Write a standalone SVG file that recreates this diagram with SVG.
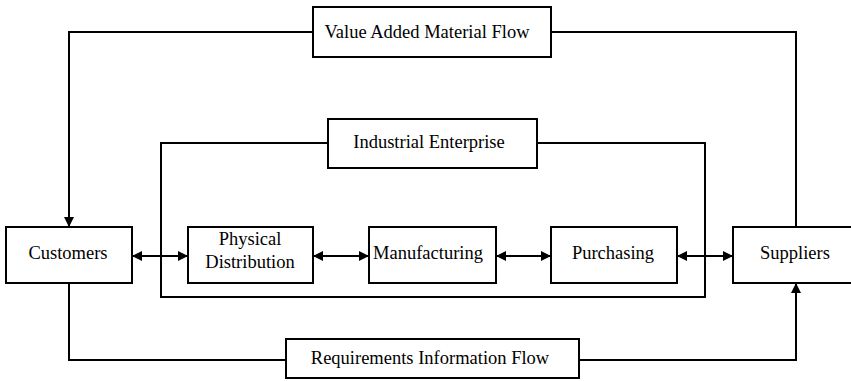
<svg xmlns="http://www.w3.org/2000/svg" width="851" height="381" viewBox="0 0 851 381">
  <style>
    .box { fill: #ffffff; stroke: #000000; stroke-width: 2; }
    .wire { fill: none; stroke: #000000; stroke-width: 2; }
    .label { font-family: "Liberation Serif", "Times New Roman", serif; font-size: 18.5px; fill: #000000; text-anchor: middle; }
  </style>
  <defs>
    <marker id="head" viewBox="0 0 10 10" refX="10" refY="5" markerWidth="10" markerHeight="10" markerUnits="userSpaceOnUse" orient="auto-start-reverse">
      <path d="M0,0 L10,5 L0,10 Z" fill="#000000"/>
    </marker>
  </defs>
  <rect width="851" height="381" fill="#ffffff"/>

  <g id="connectors">
    <!-- enterprise frame -->
    <path class="wire" d="M328,143 H161 V297 H705 V143 H537"/>
    <!-- value added material flow loop -->
    <path class="wire" d="M313,32 H69 V227" marker-end="url(#head)"/>
    <path class="wire" d="M551,32 H796 V227"/>
    <!-- requirements information flow loop -->
    <path class="wire" d="M69,283 V360 H286"/>
    <path class="wire" d="M579,360 H796 V283" marker-end="url(#head)"/>
    <!-- two-way links along the chain -->
    <path class="wire" d="M132,256 H188" marker-start="url(#head)" marker-end="url(#head)"/>
    <path class="wire" d="M313,256 H369" marker-start="url(#head)" marker-end="url(#head)"/>
    <path class="wire" d="M496,256 H551" marker-start="url(#head)" marker-end="url(#head)"/>
    <path class="wire" d="M677,256 H733" marker-start="url(#head)" marker-end="url(#head)"/>
  </g>

  <g id="value-added-material-flow">
    <rect class="box" x="313" y="7" width="238" height="50"/>
    <text class="label" x="427" y="38">Value Added Material Flow</text>
  </g>

  <g id="industrial-enterprise">
    <rect class="box" x="328" y="119" width="209" height="49"/>
    <text class="label" x="429" y="148">Industrial Enterprise</text>
  </g>

  <g id="customers">
    <rect class="box" x="6" y="227" width="126" height="56"/>
    <text class="label" x="68" y="259">Customers</text>
  </g>

  <g id="physical-distribution">
    <rect class="box" x="188" y="227" width="125" height="56"/>
    <text class="label" x="250" y="245">Physical</text>
    <text class="label" x="250" y="268">Distribution</text>
  </g>

  <g id="manufacturing">
    <rect class="box" x="369" y="227" width="127" height="56"/>
    <text class="label" x="428" y="259">Manufacturing</text>
  </g>

  <g id="purchasing">
    <rect class="box" x="551" y="227" width="126" height="56"/>
    <text class="label" x="613" y="259">Purchasing</text>
  </g>

  <g id="suppliers">
    <rect class="box" x="733" y="227" width="125" height="56"/>
    <text class="label" x="795" y="259">Suppliers</text>
  </g>

  <g id="requirements-information-flow">
    <rect class="box" x="286" y="339" width="293" height="39"/>
    <text class="label" x="430" y="364">Requirements Information Flow</text>
  </g>
</svg>
